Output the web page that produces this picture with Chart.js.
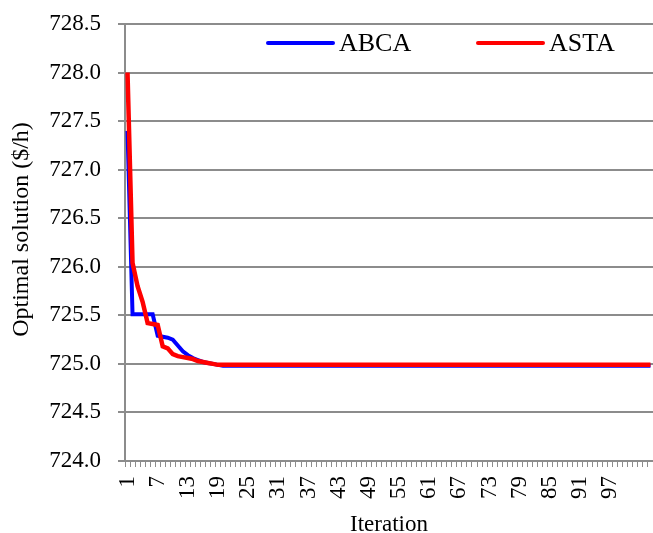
<!DOCTYPE html>
<html>
<head>
<meta charset="utf-8">
<title>Optimal solution vs iteration</title>
<script src="https://cdn.jsdelivr.net/npm/chart.js@4.4.1/dist/chart.umd.min.js"></script>
<style>
  html, body { margin: 0; padding: 0; background: #fff; }
  canvas { display: block; }
</style>
</head>
<body>
<canvas id="chart" width="653" height="533"></canvas>
<script>
// iterations 1..105 (the figure is cut at the right edge)
const iterations = Array.from({ length: 105 }, (_, i) => String(i + 1));
const tickLabels = ['1', '7', '13', '19', '25', '31', '37', '43', '49', '55', '61', '67', '73', '79', '85', '91', '97'];
const yTitle = 'Optimal solution ($/h)';

const abca = [
  727.40, 725.51, 725.51, 725.51, 725.51, 725.51, 725.29, 725.28, 725.27, 725.25,
  725.19, 725.13, 725.09, 725.06, 725.04, 725.02, 725.01, 725.00, 724.99, 724.98,
  724.98, 724.98, 724.98, 724.98, 724.98, 724.98, 724.98, 724.98, 724.98, 724.98,
  724.98, 724.98, 724.98, 724.98, 724.98, 724.98, 724.98, 724.98, 724.98, 724.98,
  724.98, 724.98, 724.98, 724.98, 724.98, 724.98, 724.98, 724.98, 724.98, 724.98,
  724.98, 724.98, 724.98, 724.98, 724.98, 724.98, 724.98, 724.98, 724.98, 724.98,
  724.98, 724.98, 724.98, 724.98, 724.98, 724.98, 724.98, 724.98, 724.98, 724.98,
  724.98, 724.98, 724.98, 724.98, 724.98, 724.98, 724.98, 724.98, 724.98, 724.98,
  724.98, 724.98, 724.98, 724.98, 724.98, 724.98, 724.98, 724.98, 724.98, 724.98,
  724.98, 724.98, 724.98, 724.98, 724.98, 724.98, 724.98, 724.98, 724.98, 724.98,
  724.98, 724.98, 724.98, 724.98, 724.98
];

const asta = [
  728.00, 726.04, 725.80, 725.64, 725.42, 725.41, 725.40, 725.18, 725.16, 725.10,
  725.08, 725.07, 725.06, 725.05, 725.03, 725.02, 725.01, 725.00, 724.99, 724.99,
  724.99, 724.99, 724.99, 724.99, 724.99, 724.99, 724.99, 724.99, 724.99, 724.99,
  724.99, 724.99, 724.99, 724.99, 724.99, 724.99, 724.99, 724.99, 724.99, 724.99,
  724.99, 724.99, 724.99, 724.99, 724.99, 724.99, 724.99, 724.99, 724.99, 724.99,
  724.99, 724.99, 724.99, 724.99, 724.99, 724.99, 724.99, 724.99, 724.99, 724.99,
  724.99, 724.99, 724.99, 724.99, 724.99, 724.99, 724.99, 724.99, 724.99, 724.99,
  724.99, 724.99, 724.99, 724.99, 724.99, 724.99, 724.99, 724.99, 724.99, 724.99,
  724.99, 724.99, 724.99, 724.99, 724.99, 724.99, 724.99, 724.99, 724.99, 724.99,
  724.99, 724.99, 724.99, 724.99, 724.99, 724.99, 724.99, 724.99, 724.99, 724.99,
  724.99, 724.99, 724.99, 724.99, 724.99
];

const gridGray = '#8c8c8c';
Chart.defaults.font.family = '"Liberation Serif", "Times New Roman", serif';
Chart.defaults.color = '#000';

// legend inside the plot (top right) and the y title, placed like the Excel original
const excelBits = {
  id: 'excelBits',
  afterDatasetsDraw(chart) {
    const ctx = chart.ctx;
    const area = chart.chartArea;
    ctx.save();
    ctx.font = '26px "Liberation Serif"';
    ctx.textBaseline = 'middle';
    ctx.textAlign = 'left';
    chart.data.datasets.forEach((ds, i) => {
      const x = area.left + 143 + i * 210;
      const y = area.top + 19;
      ctx.strokeStyle = ds.borderColor;
      ctx.lineWidth = 4;
      ctx.lineCap = 'round';
      ctx.beginPath();
      ctx.moveTo(x, y);
      ctx.lineTo(x + 65, y);
      ctx.stroke();
      ctx.fillStyle = '#000';
      ctx.fillText(ds.label, x + 71, y + 1);
    });

    ctx.font = '24px "Liberation Serif"';
    ctx.textAlign = 'center';
    ctx.translate(21.5, (area.top + area.bottom) / 2 - 13);
    ctx.rotate(-Math.PI / 2);
    ctx.fillText(yTitle, 0, 0);
    ctx.restore();
  }
};

new Chart(document.getElementById('chart'), {
  type: 'line',
  data: {
    labels: iterations,
    datasets: [
      {
        label: 'ABCA',
        data: abca,
        borderColor: '#0000ff',
        backgroundColor: '#0000ff',
        borderWidth: 4,
        pointRadius: 0,
        tension: 0,
        order: 1,
      },
      {
        label: 'ASTA',
        data: asta,
        borderColor: '#ff0000',
        backgroundColor: '#ff0000',
        borderWidth: 4.5,
        pointRadius: 0,
        tension: 0,
        order: 0,
      },
    ],
  },
  options: {
    responsive: false,
    animation: false,
    devicePixelRatio: 1,
    layout: { padding: { top: 24, right: 0, bottom: 0, left: 0 } },
    plugins: {
      legend: { display: false },
      tooltip: { enabled: false },
    },
    scales: {
      x: {
        type: 'category',
        offset: true,
        grid: {
          offset: true,
          drawOnChartArea: false,
          drawTicks: true,
          tickLength: 6,
          color: gridGray,
          lineWidth: 1,
        },
        border: { display: true, color: gridGray, width: 2 },
        ticks: {
          autoSkip: false,
          maxRotation: 90,
          minRotation: 90,
          padding: 9,
          font: { size: 23 },
          callback: function (value) {
            const lab = this.getLabelForValue(value);
            return tickLabels.includes(lab) ? lab : '';
          },
        },
        title: {
          display: true,
          text: 'Iteration',
          font: { size: 23, lineHeight: 0.68 },
          padding: 0,
        },
        afterFit(scale) {
          scale.height = 72;
          scale.paddingLeft = 0;
          scale.paddingRight = 0;
        },
      },
      y: {
        min: 724,
        max: 728.5,
        grid: {
          color: gridGray,
          lineWidth: 2,
          drawTicks: true,
          tickLength: 7,
        },
        border: { display: true, color: gridGray, width: 2 },
        ticks: {
          stepSize: 0.5,
          padding: 17,
          font: { size: 23 },
          callback: (v) => v.toFixed(1),
        },
        afterFit(scale) {
          scale.width = 125;
          scale.paddingTop = 0;
          scale.paddingBottom = 0;
        },
      },
    },
  },
  plugins: [excelBits],
});
</script>
</body>
</html>
